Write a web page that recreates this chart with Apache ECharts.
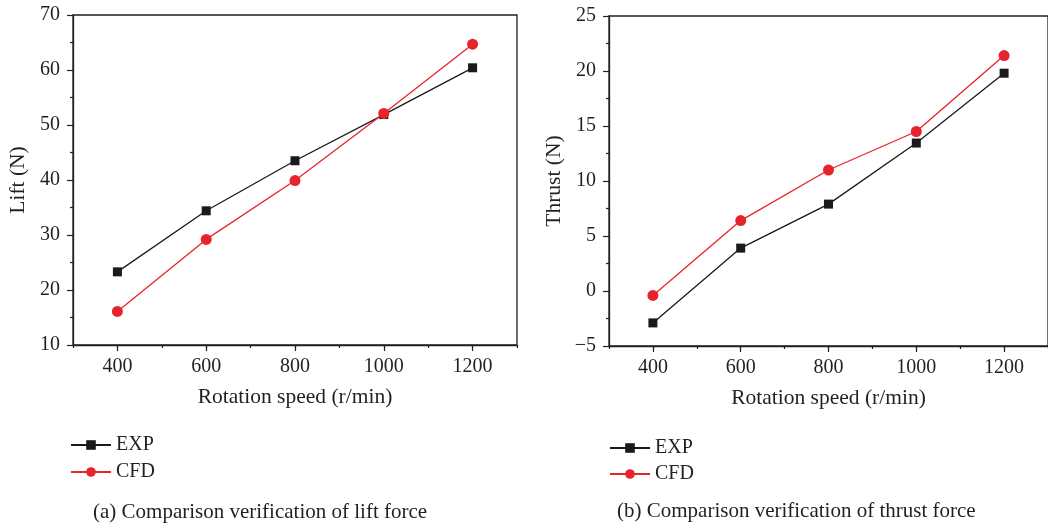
<!DOCTYPE html>
<html>
<head>
<meta charset="utf-8">
<script src="https://cdn.jsdelivr.net/npm/echarts@6/dist/echarts.min.js"></script>
<style>html,body{margin:0;padding:0;background:#fff}#c{width:1048px;height:528px}</style>
</head>
<body>
<div id="c"></div>
<script>
const speeds = [400, 600, 800, 1000, 1200];
const liftExp = [23.3, 34.4, 43.5, 51.9, 60.4];
const liftCfd = [16.1, 29.2, 39.9, 52.1, 64.7];
const thrustExp = [-2.9, 3.9, 7.9, 13.45, 19.8];
const thrustCfd = [-0.4, 6.4, 11.0, 14.5, 21.4];
const xTicks = [400, 600, 800, 1000, 1200];
const seriesNames = ['EXP', 'CFD'];
const xName = 'Rotation speed (r/min)';
const yNames = ['Lift (N)', 'Thrust (N)'];
const captions = ['(a) Comparison verification of lift force', '(b) Comparison verification of thrust force'];

const FONT = 'Liberation Serif';
const TXT = '#231f20';
const RED = '#e8232b';
const BLK = '#1a1a1a';
const pair = (xs, ys) => xs.map((x, i) => [x, ys[i]]);

function mainX(gi) {
  return {
    type: 'value', gridIndex: gi, min: 300, max: 1300, position: 'bottom',
    name: xName, nameLocation: 'middle', nameGap: 41,
    nameTextStyle: { fontFamily: FONT, fontSize: 21.5, color: TXT },
    axisLine: { show: true, onZero: false, lineStyle: { color: TXT, width: 1.3 } },
    axisTick: { show: true, customValues: xTicks, length: 6, lineStyle: { color: TXT, width: 1.2 } },
    axisLabel: { customValues: xTicks, margin: 12, fontFamily: FONT, fontSize: 20, color: TXT,
      formatter: v => String(v) },
    splitLine: { show: false }
  };
}
function minorX(gi) {
  return {
    type: 'value', gridIndex: gi, min: 300, max: 1300, interval: 100, position: 'bottom',
    axisLine: { show: false, onZero: false },
    axisTick: { show: true, length: 3, lineStyle: { color: TXT, width: 1.2 } },
    axisLabel: { show: false }, splitLine: { show: false }
  };
}
function yAx(gi, min, max, interval, name) {
  return {
    type: 'value', gridIndex: gi, min: min, max: max, interval: interval,
    name: name, nameLocation: 'middle', nameGap: 44,
    nameTextStyle: { fontFamily: FONT, fontSize: 21.5, color: TXT },
    axisLine: { show: true, onZero: false, lineStyle: { color: TXT, width: 1.3 } },
    axisTick: { show: true, length: 6, lineStyle: { color: TXT, width: 1.2 } },
    minorTick: { show: true, splitNumber: 2, length: 3, lineStyle: { color: TXT, width: 1.2 } },
    axisLabel: { margin: 13, fontFamily: FONT, fontSize: 20, color: TXT,
      formatter: v => (v < 0 ? '\u2212' + Math.abs(v) : String(v)) },
    splitLine: { show: false }
  };
}
function ser(name, gi, data, color, symbol, size) {
  return {
    name: name, type: 'line', xAxisIndex: gi * 2, yAxisIndex: gi, data: data,
    symbol: symbol, symbolSize: size, showSymbol: true,
    lineStyle: { color: color, width: 1.3 },
    itemStyle: { color: color },
    emphasis: { disabled: true }, animation: false
  };
}
const legendText = { fontFamily: FONT, fontSize: 20, color: TXT };

const chart = echarts.init(document.getElementById('c'), null, { renderer: 'canvas' });
chart.setOption({
  backgroundColor: '#fff',
  animation: false,
  grid: [
    { left: 73, top: 15, width: 444, height: 330, show: true, borderColor: TXT, borderWidth: 1.3, backgroundColor: 'transparent' },
    { left: 609, top: 16, width: 446, height: 330, show: true, borderColor: TXT, borderWidth: 1.3, backgroundColor: 'transparent' }
  ],
  xAxis: [mainX(0), minorX(0), mainX(1), minorX(1)],
  yAxis: [yAx(0, 10, 70, 10, yNames[0]), yAx(1, -5, 25, 5, yNames[1])],
  legend: [
    { orient: 'vertical', left: 70, top: 435, padding: 0, itemWidth: 40, itemHeight: 12, itemGap: 7,
      data: seriesNames, textStyle: legendText },
    { orient: 'vertical', left: 609, top: 438, padding: 0, itemWidth: 40, itemHeight: 12, itemGap: 6,
      data: seriesNames, textStyle: legendText }
  ],
  title: [
    { text: captions[0], left: 93, top: 502, padding: 0, textStyle: { fontFamily: FONT, fontSize: 21, fontWeight: 'normal', color: TXT } },
    { text: captions[1], left: 617, top: 501, padding: 0, textStyle: { fontFamily: FONT, fontSize: 21, fontWeight: 'normal', color: TXT } }
  ],
  series: [
    ser(seriesNames[0], 0, pair(speeds, liftExp), BLK, 'rect', 9),
    ser(seriesNames[1], 0, pair(speeds, liftCfd), RED, 'circle', 11),
    ser(seriesNames[0], 1, pair(speeds, thrustExp), BLK, 'rect', 9),
    ser(seriesNames[1], 1, pair(speeds, thrustCfd), RED, 'circle', 11)
  ]
});
</script>
</body>
</html>
